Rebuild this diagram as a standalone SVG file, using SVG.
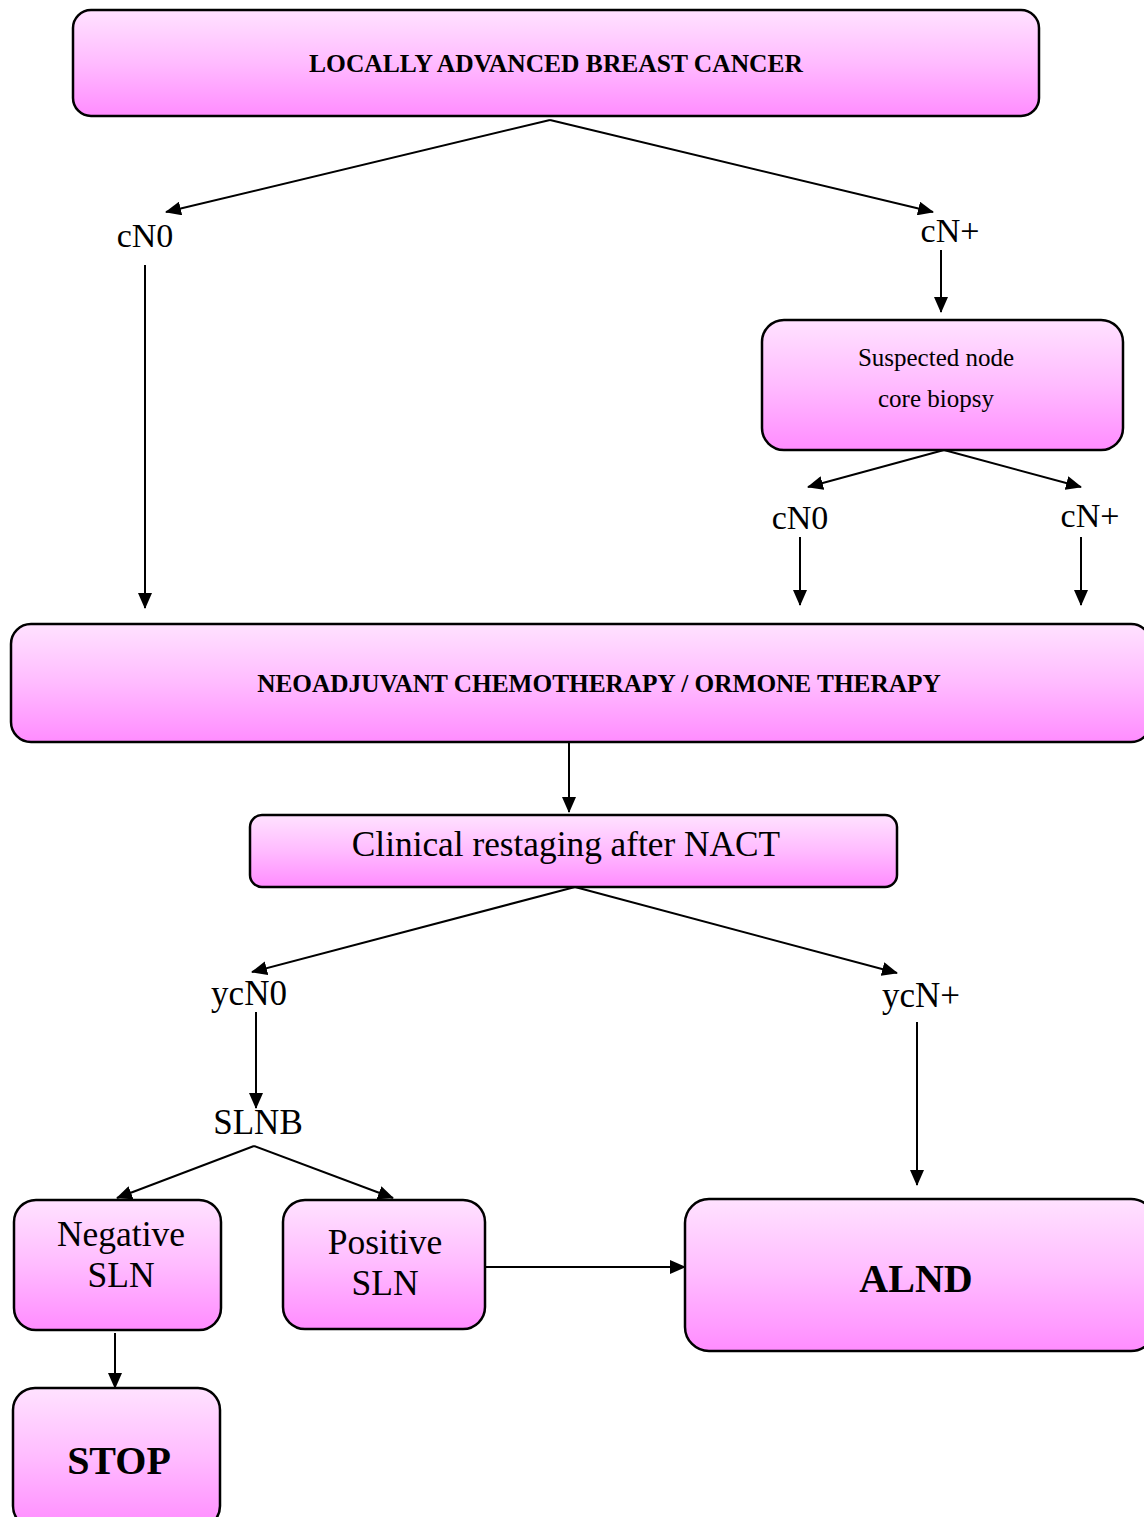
<svg xmlns="http://www.w3.org/2000/svg" width="1144" height="1517" viewBox="0 0 1144 1517">
<defs>
<linearGradient id="g" x1="0" y1="0" x2="0" y2="1">
<stop offset="0" stop-color="#FFE2FF"/>
<stop offset="0.5" stop-color="#FFBBFF"/>
<stop offset="1" stop-color="#FF8CFF"/>
</linearGradient>
<marker id="ah" markerWidth="16" markerHeight="14" refX="15" refY="7" orient="auto" markerUnits="userSpaceOnUse">
<path d="M0,0 L16,7 L0,14 Z" fill="#000"/>
</marker>
<style>
.box{fill:url(#g);stroke:#000;stroke-width:2.5}
.t{font-family:"Liberation Serif","Times New Roman",serif;fill:#000;text-anchor:middle}
.b{font-weight:bold}
.c{stroke:#000;stroke-width:2;fill:none;marker-end:url(#ah)}
</style>
</defs>
<g id="n-labc"><rect class="box" x="73" y="10" width="966" height="106" rx="18"/><text class="t b" x="556" y="72" font-size="25.5">LOCALLY ADVANCED BREAST CANCER</text></g>
<g id="n-biopsy"><rect class="box" x="762" y="320" width="361" height="130" rx="22"/><text class="t" x="936" y="366" font-size="25">Suspected node</text><text class="t" x="936" y="407" font-size="25">core biopsy</text></g>
<g id="n-nact"><rect class="box" x="11" y="624" width="1140" height="118" rx="20"/><text class="t b" x="599" y="692" font-size="25.3">NEOADJUVANT CHEMOTHERAPY / ORMONE THERAPY</text></g>
<g id="n-restage"><rect class="box" x="250" y="815" width="647" height="72" rx="12"/><text class="t" x="566" y="856" font-size="35.3">Clinical restaging after NACT</text></g>
<g id="n-neg"><rect class="box" x="14" y="1200" width="207" height="130" rx="22"/><text class="t" x="121" y="1246" font-size="35.5">Negative</text><text class="t" x="121" y="1287" font-size="35.5">SLN</text></g>
<g id="n-pos"><rect class="box" x="283" y="1200" width="202" height="129" rx="22"/><text class="t" x="385" y="1254" font-size="35.5">Positive</text><text class="t" x="385" y="1295" font-size="35.5">SLN</text></g>
<g id="n-alnd"><rect class="box" x="685" y="1199" width="470" height="152" rx="24"/><text class="t b" x="916" y="1292" font-size="40">ALND</text></g>
<g id="n-stop"><rect class="box" x="13" y="1388" width="207" height="140" rx="22"/><text class="t b" x="119" y="1474" font-size="40">STOP</text></g>
<g id="labels">
<text class="t" x="145" y="247" font-size="34">cN0</text>
<text class="t" x="950" y="242" font-size="34">cN+</text>
<text class="t" x="800" y="529" font-size="34">cN0</text>
<text class="t" x="1090" y="527" font-size="34">cN+</text>
<text class="t" x="249" y="1005" font-size="35">ycN0</text>
<text class="t" x="921" y="1007" font-size="35">ycN+</text>
<text class="t" x="258" y="1134" font-size="35">SLNB</text>
</g>
<g id="connectors">
<path class="c" d="M550,120 L166,212"/>
<path class="c" d="M550,120 L933,212"/>
<path class="c" d="M941,250 L941,312"/>
<path class="c" d="M145,265 L145,608"/>
<path class="c" d="M944,450 L808,487"/>
<path class="c" d="M944,450 L1081,487"/>
<path class="c" d="M800,537 L800,605"/>
<path class="c" d="M1081,537 L1081,605"/>
<path class="c" d="M569,743 L569,812"/>
<path class="c" d="M575,887 L252,972"/>
<path class="c" d="M575,887 L897,973"/>
<path class="c" d="M256,1012 L256,1108"/>
<path class="c" d="M917,1022 L917,1185"/>
<path class="c" d="M254,1146 L117,1198"/>
<path class="c" d="M254,1146 L393,1198"/>
<path class="c" d="M486,1267 L685,1267"/>
<path class="c" d="M115,1333 L115,1388"/>
</g>
</svg>
